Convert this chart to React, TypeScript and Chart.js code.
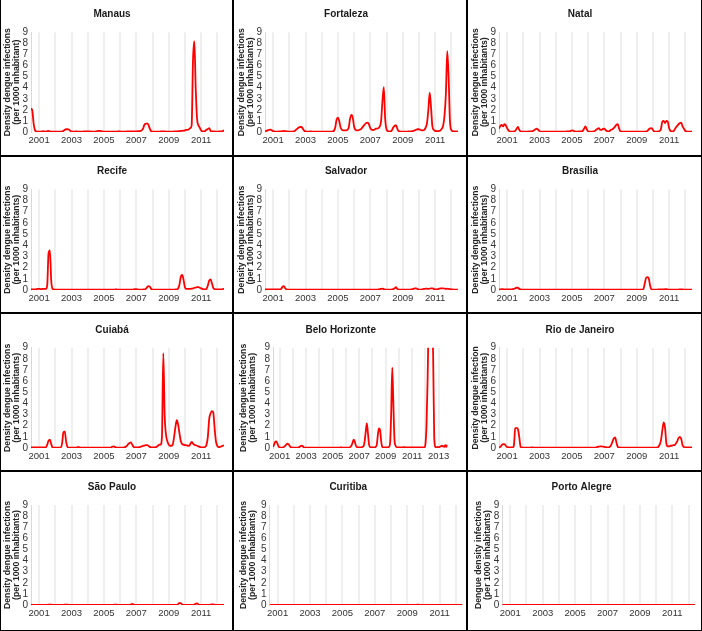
import React, { useEffect, useRef } from 'react';
import { Chart, registerables } from 'chart.js';

Chart.register(...registerables);
Chart.defaults.font.family = "'Liberation Sans', Arial, Helvetica, sans-serif";

// Monthly series, first point = July 2000
const START_YEAR = 2000.5;

const xTickLabels = ['2001', '2003', '2005', '2007', '2009', '2011'];
const xTickLabelsBH = ['2001', '2003', '2005', '2007', '2009', '2011', '2013'];

const cityTitles = ['Manaus', 'Fortaleza', 'Natal', 'Recife', 'Salvador', 'Brasília', 'Cuiabá', 'Belo Horizonte', 'Rio de Janeiro', 'São Paulo', 'Curitiba', 'Porto Alegre'];

const manaus = [
  2.15, 1.9, 0.7, 0.15, 0.05, 0.03, 0.03, 0.03, 0.05, 0.08, 0.05, 0.03,
  0.08, 0.1, 0.05, 0.03, 0.03, 0.03, 0.03, 0.03, 0.03, 0.03, 0.03, 0.05,
  0.1, 0.2, 0.25, 0.25, 0.22, 0.12, 0.05, 0.03, 0.03, 0.05, 0.05, 0.03,
  0.03, 0.03, 0.03, 0.05, 0.05, 0.05, 0.05, 0.05, 0.05, 0.03, 0.03, 0.03,
  0.05, 0.08, 0.1, 0.1, 0.08, 0.05, 0.03, 0.03, 0.03, 0.03, 0.03, 0.03,
  0.03, 0.03, 0.03, 0.03, 0.05, 0.05, 0.05, 0.03, 0.03, 0.03, 0.03, 0.05,
  0.05, 0.05, 0.05, 0.05, 0.05, 0.05, 0.05, 0.08, 0.08, 0.1, 0.15, 0.3,
  0.65, 0.75, 0.78, 0.65, 0.3, 0.08, 0.03, 0.03, 0.03, 0.03, 0.03, 0.03,
  0.05, 0.05, 0.05, 0.05, 0.03, 0.03, 0.03, 0.03, 0.03, 0.03, 0.05, 0.05,
  0.05, 0.08, 0.08, 0.1, 0.1, 0.12, 0.15, 0.2, 0.2, 0.25, 0.35, 0.6,
  6.5, 8.2, 4.0, 1.2, 0.6, 0.4, 0.15, 0.05, 0.05, 0.1, 0.2, 0.28,
  0.35, 0.1, 0.05, 0.05, 0.05, 0.03, 0.03, 0.05, 0.05, 0.05, 0.08, 0.15,
];

const fortaleza = [
  0.05, 0.1, 0.15, 0.2, 0.22, 0.15, 0.08, 0.05, 0.03, 0.03, 0.05, 0.05,
  0.05, 0.08, 0.1, 0.08, 0.05, 0.05, 0.03, 0.03, 0.03, 0.05, 0.1, 0.2,
  0.3, 0.4, 0.45, 0.45, 0.3, 0.12, 0.05, 0.03, 0.03, 0.05, 0.05, 0.03,
  0.03, 0.03, 0.03, 0.03, 0.03, 0.03, 0.03, 0.03, 0.03, 0.03, 0.03, 0.03,
  0.03, 0.03, 0.05, 0.1, 0.4, 1.1, 1.3, 1.0, 0.4, 0.2, 0.15, 0.15,
  0.15, 0.2, 0.4, 1.2, 1.55, 1.3, 0.5, 0.2, 0.15, 0.15, 0.2, 0.25,
  0.4, 0.55, 0.7, 0.82, 0.85, 0.7, 0.35, 0.2, 0.18, 0.2, 0.3, 0.3,
  0.35, 0.5, 1.0, 2.8, 4.05, 1.2, 0.25, 0.08, 0.05, 0.05, 0.15, 0.4,
  0.55, 0.62, 0.3, 0.08, 0.05, 0.03, 0.03, 0.03, 0.03, 0.03, 0.05, 0.05,
  0.05, 0.08, 0.1, 0.15, 0.2, 0.25, 0.25, 0.2, 0.15, 0.15, 0.2, 0.4,
  0.8, 2.0, 3.55, 2.2, 0.5, 0.2, 0.1, 0.08, 0.08, 0.1, 0.15, 0.3,
  0.6, 1.5, 3.5, 7.3, 5.0, 1.0, 0.2, 0.08, 0.05, 0.05, 0.05, 0.05,
];

const natal = [
  0.3, 0.55, 0.65, 0.5, 0.7, 0.6, 0.35, 0.15, 0.05, 0.03, 0.03, 0.05,
  0.1, 0.3, 0.45, 0.2, 0.05, 0.03, 0.03, 0.03, 0.03, 0.03, 0.05, 0.05,
  0.05, 0.08, 0.15, 0.25, 0.3, 0.2, 0.08, 0.03, 0.03, 0.03, 0.03, 0.03,
  0.03, 0.03, 0.03, 0.03, 0.03, 0.03, 0.03, 0.03, 0.03, 0.03, 0.03, 0.03,
  0.03, 0.03, 0.05, 0.05, 0.05, 0.1, 0.15, 0.12, 0.05, 0.03, 0.03, 0.05,
  0.05, 0.05, 0.1, 0.3, 0.5, 0.25, 0.05, 0.03, 0.03, 0.03, 0.05, 0.1,
  0.2, 0.3, 0.35, 0.2, 0.2, 0.28, 0.3, 0.18, 0.08, 0.05, 0.1, 0.2,
  0.25, 0.35, 0.5, 0.65, 0.7, 0.3, 0.05, 0.03, 0.03, 0.03, 0.03, 0.03,
  0.03, 0.03, 0.03, 0.03, 0.03, 0.03, 0.03, 0.03, 0.03, 0.03, 0.03, 0.03,
  0.03, 0.05, 0.1, 0.25, 0.33, 0.35, 0.2, 0.05, 0.03, 0.03, 0.05, 0.1,
  0.3, 0.95, 1.0, 0.8, 1.0, 0.95, 0.35, 0.1, 0.05, 0.05, 0.2, 0.4,
  0.55, 0.7, 0.8, 0.85, 0.5, 0.3, 0.1, 0.05, 0.03, 0.03, 0.03, 0.03,
];

const recife = [
  0.05, 0.05, 0.05, 0.05, 0.08, 0.1, 0.1, 0.08, 0.08, 0.1, 0.1, 0.1,
  0.4, 3.3, 3.55, 0.8, 0.1, 0.05, 0.03, 0.03, 0.03, 0.03, 0.03, 0.03,
  0.03, 0.03, 0.03, 0.03, 0.03, 0.03, 0.03, 0.03, 0.03, 0.03, 0.03, 0.03,
  0.03, 0.03, 0.03, 0.03, 0.03, 0.03, 0.03, 0.03, 0.03, 0.03, 0.03, 0.03,
  0.03, 0.03, 0.03, 0.03, 0.03, 0.03, 0.03, 0.03, 0.03, 0.03, 0.03, 0.03,
  0.03, 0.03, 0.04, 0.05, 0.04, 0.03, 0.03, 0.03, 0.03, 0.03, 0.03, 0.03,
  0.03, 0.03, 0.03, 0.03, 0.05, 0.08, 0.08, 0.05, 0.03, 0.03, 0.03, 0.05,
  0.05, 0.1, 0.25, 0.35, 0.3, 0.1, 0.03, 0.03, 0.03, 0.03, 0.03, 0.03,
  0.03, 0.03, 0.03, 0.03, 0.03, 0.03, 0.03, 0.03, 0.03, 0.03, 0.03, 0.05,
  0.05, 0.15, 0.5, 1.2, 1.35, 0.9, 0.25, 0.1, 0.1, 0.1, 0.1, 0.12,
  0.15, 0.2, 0.22, 0.25, 0.25, 0.2, 0.15, 0.1, 0.05, 0.05, 0.1, 0.4,
  0.85, 0.95, 0.6, 0.2, 0.08, 0.05, 0.05, 0.05, 0.05, 0.05, 0.08, 0.1,
];

const salvador = [
  0.05, 0.05, 0.05, 0.05, 0.05, 0.05, 0.05, 0.05, 0.05, 0.05, 0.05, 0.05,
  0.1, 0.3, 0.35, 0.15, 0.05, 0.03, 0.03, 0.03, 0.03, 0.03, 0.03, 0.03,
  0.03, 0.03, 0.03, 0.03, 0.03, 0.03, 0.03, 0.03, 0.03, 0.03, 0.03, 0.03,
  0.03, 0.03, 0.03, 0.03, 0.03, 0.03, 0.03, 0.03, 0.03, 0.03, 0.03, 0.03,
  0.03, 0.03, 0.03, 0.03, 0.03, 0.03, 0.03, 0.03, 0.03, 0.03, 0.03, 0.03,
  0.03, 0.03, 0.03, 0.03, 0.03, 0.03, 0.03, 0.03, 0.03, 0.03, 0.03, 0.03,
  0.03, 0.03, 0.03, 0.03, 0.03, 0.03, 0.03, 0.03, 0.03, 0.03, 0.03, 0.03,
  0.05, 0.08, 0.1, 0.12, 0.08, 0.05, 0.03, 0.03, 0.03, 0.03, 0.05, 0.08,
  0.15, 0.25, 0.1, 0.05, 0.03, 0.03, 0.03, 0.03, 0.03, 0.03, 0.03, 0.03,
  0.05, 0.08, 0.1, 0.15, 0.15, 0.08, 0.05, 0.03, 0.05, 0.08, 0.1, 0.12,
  0.12, 0.1, 0.12, 0.15, 0.15, 0.1, 0.05, 0.05, 0.08, 0.12, 0.15, 0.15,
  0.15, 0.12, 0.1, 0.12, 0.1, 0.08, 0.05, 0.05, 0.03, 0.03, 0.03, 0.03,
];

const brasilia = [
  0.05, 0.05, 0.08, 0.08, 0.05, 0.05, 0.05, 0.05, 0.05, 0.05, 0.08, 0.1,
  0.15, 0.2, 0.2, 0.1, 0.05, 0.03, 0.03, 0.03, 0.03, 0.03, 0.03, 0.03,
  0.03, 0.03, 0.03, 0.03, 0.03, 0.03, 0.03, 0.03, 0.03, 0.03, 0.03, 0.03,
  0.03, 0.03, 0.03, 0.03, 0.03, 0.03, 0.03, 0.03, 0.03, 0.03, 0.03, 0.03,
  0.03, 0.03, 0.03, 0.03, 0.03, 0.03, 0.03, 0.03, 0.03, 0.03, 0.03, 0.03,
  0.03, 0.03, 0.03, 0.03, 0.03, 0.03, 0.03, 0.03, 0.03, 0.03, 0.03, 0.03,
  0.03, 0.03, 0.03, 0.03, 0.03, 0.03, 0.03, 0.03, 0.03, 0.03, 0.03, 0.03,
  0.03, 0.03, 0.03, 0.03, 0.03, 0.03, 0.03, 0.03, 0.03, 0.03, 0.03, 0.03,
  0.03, 0.03, 0.03, 0.03, 0.03, 0.03, 0.03, 0.03, 0.03, 0.03, 0.03, 0.1,
  0.6, 1.1, 1.15, 1.0, 0.35, 0.05, 0.03, 0.03, 0.03, 0.03, 0.05, 0.05,
  0.05, 0.05, 0.06, 0.07, 0.07, 0.05, 0.03, 0.03, 0.03, 0.03, 0.03, 0.03,
  0.03, 0.04, 0.05, 0.06, 0.05, 0.03, 0.03, 0.03, 0.03, 0.03, 0.03, 0.03,
];

const cuiaba = [
  0.05, 0.05, 0.05, 0.05, 0.05, 0.05, 0.05, 0.05, 0.05, 0.05, 0.05, 0.05,
  0.3, 0.65, 0.75, 0.35, 0.05, 0.03, 0.03, 0.03, 0.03, 0.03, 0.05, 0.4,
  1.4, 1.5, 0.6, 0.1, 0.03, 0.03, 0.03, 0.03, 0.03, 0.03, 0.05, 0.1,
  0.05, 0.03, 0.03, 0.03, 0.03, 0.03, 0.03, 0.03, 0.03, 0.03, 0.03, 0.03,
  0.03, 0.03, 0.03, 0.03, 0.03, 0.03, 0.03, 0.03, 0.03, 0.03, 0.03, 0.03,
  0.1, 0.15, 0.1, 0.05, 0.03, 0.03, 0.03, 0.03, 0.03, 0.05, 0.1, 0.2,
  0.35, 0.45, 0.5, 0.3, 0.1, 0.05, 0.05, 0.05, 0.08, 0.1, 0.15, 0.2,
  0.22, 0.25, 0.25, 0.2, 0.1, 0.05, 0.05, 0.05, 0.08, 0.1, 0.2, 0.3,
  0.3, 1.0, 8.5, 3.0, 1.2, 0.6, 0.3, 0.2, 0.2, 0.3, 1.0, 1.9,
  2.5, 2.1, 1.3, 0.6, 0.35, 0.3, 0.25, 0.25, 0.2, 0.2, 0.35, 0.55,
  0.4, 0.3, 0.25, 0.2, 0.15, 0.1, 0.05, 0.05, 0.05, 0.1, 0.3, 1.0,
  2.6, 3.1, 3.3, 3.2, 1.8, 0.6, 0.2, 0.08, 0.1, 0.15, 0.2, 0.25,
];

const beloHorizonte = [
  0.1, 0.3, 0.55, 0.6, 0.4, 0.15, 0.05, 0.03, 0.03, 0.05, 0.1, 0.2,
  0.3, 0.4, 0.35, 0.2, 0.08, 0.03, 0.03, 0.03, 0.03, 0.03, 0.03, 0.05,
  0.1, 0.18, 0.2, 0.15, 0.05, 0.03, 0.03, 0.03, 0.03, 0.03, 0.03, 0.03,
  0.03, 0.03, 0.03, 0.03, 0.03, 0.03, 0.03, 0.03, 0.03, 0.03, 0.03, 0.03,
  0.03, 0.03, 0.03, 0.03, 0.03, 0.03, 0.03, 0.03, 0.03, 0.03, 0.03, 0.03,
  0.03, 0.05, 0.05, 0.03, 0.03, 0.03, 0.03, 0.03, 0.03, 0.03, 0.1, 0.2,
  0.45, 0.75, 0.6, 0.25, 0.08, 0.05, 0.05, 0.05, 0.05, 0.1, 0.15, 0.6,
  1.5, 2.2, 1.3, 0.3, 0.08, 0.05, 0.05, 0.05, 0.05, 0.1, 0.3, 1.2,
  1.75, 1.6, 0.6, 0.1, 0.05, 0.05, 0.05, 0.05, 0.05, 0.1, 0.4, 3.0,
  7.2, 4.0, 0.8, 0.2, 0.08, 0.05, 0.05, 0.05, 0.05, 0.05, 0.08, 0.08,
  0.05, 0.05, 0.05, 0.05, 0.05, 0.05, 0.05, 0.05, 0.05, 0.05, 0.05, 0.05,
  0.05, 0.05, 0.05, 0.05, 0.05, 0.05, 0.3, 2.0, 6.0, 12, 18, 16,
  10.5, 8.5, 1.0, 0.1, 0.05, 0.1, 0.08, 0.1, 0.15, 0.2, 0.15, 0.1,
  0.25, 0.1, 0.3,
];

const rioDeJaneiro = [
  0.05, 0.1, 0.25, 0.35, 0.35, 0.2, 0.08, 0.05, 0.05, 0.05, 0.05, 0.2,
  1.75, 1.8, 1.7, 1.0, 0.1, 0.05, 0.03, 0.03, 0.03, 0.03, 0.03, 0.03,
  0.05, 0.05, 0.03, 0.03, 0.03, 0.03, 0.03, 0.03, 0.03, 0.03, 0.03, 0.03,
  0.03, 0.03, 0.03, 0.03, 0.03, 0.03, 0.03, 0.03, 0.03, 0.03, 0.03, 0.03,
  0.03, 0.03, 0.03, 0.03, 0.03, 0.03, 0.03, 0.03, 0.03, 0.03, 0.03, 0.03,
  0.03, 0.03, 0.03, 0.03, 0.03, 0.03, 0.03, 0.03, 0.03, 0.03, 0.03, 0.03,
  0.05, 0.1, 0.12, 0.15, 0.15, 0.12, 0.1, 0.08, 0.05, 0.05, 0.1, 0.25,
  0.55, 0.85, 0.95, 0.5, 0.1, 0.05, 0.03, 0.03, 0.03, 0.03, 0.03, 0.03,
  0.03, 0.03, 0.03, 0.03, 0.03, 0.03, 0.03, 0.03, 0.03, 0.03, 0.03, 0.03,
  0.03, 0.03, 0.03, 0.03, 0.03, 0.03, 0.03, 0.03, 0.03, 0.03, 0.1, 0.3,
  0.7, 1.6, 2.3, 1.8, 0.4, 0.15, 0.15, 0.2, 0.2, 0.25, 0.25, 0.4,
  0.6, 0.9, 1.0, 0.8, 0.25, 0.08, 0.05, 0.05, 0.05, 0.05, 0.05, 0.05,
];

const saoPaulo = [
  0.02, 0.02, 0.02, 0.02, 0.02, 0.02, 0.02, 0.02, 0.02, 0.02, 0.02, 0.02,
  0.02, 0.03, 0.04, 0.03, 0.02, 0.02, 0.02, 0.02, 0.02, 0.02, 0.02, 0.02,
  0.02, 0.03, 0.04, 0.03, 0.02, 0.02, 0.02, 0.02, 0.02, 0.02, 0.02, 0.02,
  0.02, 0.02, 0.02, 0.02, 0.02, 0.02, 0.02, 0.02, 0.02, 0.02, 0.02, 0.02,
  0.02, 0.02, 0.02, 0.02, 0.02, 0.02, 0.02, 0.02, 0.02, 0.02, 0.02, 0.02,
  0.02, 0.02, 0.03, 0.03, 0.02, 0.02, 0.02, 0.02, 0.02, 0.02, 0.02, 0.02,
  0.02, 0.02, 0.05, 0.1, 0.05, 0.02, 0.02, 0.02, 0.02, 0.02, 0.02, 0.02,
  0.02, 0.02, 0.02, 0.02, 0.02, 0.02, 0.02, 0.02, 0.02, 0.02, 0.02, 0.02,
  0.02, 0.02, 0.02, 0.02, 0.02, 0.02, 0.02, 0.02, 0.02, 0.02, 0.02, 0.02,
  0.02, 0.08, 0.2, 0.15, 0.05, 0.02, 0.02, 0.02, 0.02, 0.02, 0.02, 0.02,
  0.02, 0.05, 0.1, 0.15, 0.05, 0.02, 0.02, 0.02, 0.02, 0.02, 0.02, 0.02,
  0.02, 0.03, 0.05, 0.05, 0.03, 0.02, 0.02, 0.02, 0.02, 0.02, 0.02, 0.02,
];

const curitiba = [
  0.01, 0.01, 0.01, 0.01, 0.01, 0.01, 0.01, 0.01, 0.01, 0.01, 0.01, 0.01,
  0.01, 0.01, 0.01, 0.01, 0.01, 0.01, 0.01, 0.01, 0.01, 0.01, 0.01, 0.01,
  0.01, 0.01, 0.01, 0.01, 0.01, 0.01, 0.01, 0.01, 0.01, 0.01, 0.01, 0.01,
  0.01, 0.01, 0.01, 0.01, 0.01, 0.01, 0.01, 0.01, 0.01, 0.01, 0.01, 0.01,
  0.01, 0.01, 0.01, 0.01, 0.01, 0.01, 0.01, 0.01, 0.01, 0.01, 0.01, 0.01,
  0.01, 0.01, 0.01, 0.01, 0.01, 0.01, 0.01, 0.01, 0.01, 0.01, 0.01, 0.01,
  0.01, 0.01, 0.01, 0.01, 0.01, 0.01, 0.01, 0.01, 0.01, 0.01, 0.01, 0.01,
  0.01, 0.01, 0.01, 0.01, 0.01, 0.01, 0.01, 0.01, 0.01, 0.01, 0.01, 0.01,
  0.01, 0.01, 0.01, 0.01, 0.01, 0.01, 0.01, 0.01, 0.01, 0.01, 0.01, 0.01,
  0.01, 0.02, 0.03, 0.02, 0.01, 0.01, 0.01, 0.01, 0.01, 0.01, 0.01, 0.01,
  0.01, 0.01, 0.01, 0.01, 0.01, 0.01, 0.01, 0.01, 0.01, 0.01, 0.01, 0.01,
  0.01, 0.01, 0.01, 0.01, 0.01, 0.01, 0.01, 0.01, 0.01, 0.01, 0.01, 0.01,
];

const portoAlegre = [
  0.01, 0.01, 0.01, 0.01, 0.01, 0.01, 0.01, 0.01, 0.01, 0.01, 0.01, 0.01,
  0.01, 0.01, 0.01, 0.01, 0.01, 0.01, 0.01, 0.01, 0.01, 0.01, 0.01, 0.01,
  0.01, 0.01, 0.01, 0.01, 0.01, 0.01, 0.01, 0.01, 0.01, 0.01, 0.01, 0.01,
  0.01, 0.01, 0.01, 0.01, 0.01, 0.01, 0.01, 0.01, 0.01, 0.01, 0.01, 0.01,
  0.01, 0.01, 0.01, 0.01, 0.01, 0.01, 0.01, 0.01, 0.01, 0.01, 0.01, 0.01,
  0.01, 0.01, 0.01, 0.01, 0.01, 0.01, 0.01, 0.01, 0.01, 0.01, 0.01, 0.01,
  0.01, 0.01, 0.01, 0.01, 0.01, 0.01, 0.01, 0.01, 0.01, 0.01, 0.01, 0.01,
  0.01, 0.01, 0.01, 0.01, 0.01, 0.01, 0.01, 0.01, 0.01, 0.01, 0.01, 0.01,
  0.01, 0.01, 0.01, 0.01, 0.01, 0.01, 0.01, 0.01, 0.01, 0.01, 0.01, 0.01,
  0.01, 0.01, 0.01, 0.01, 0.01, 0.01, 0.01, 0.01, 0.01, 0.01, 0.01, 0.01,
  0.01, 0.01, 0.01, 0.01, 0.01, 0.01, 0.01, 0.01, 0.01, 0.01, 0.01, 0.01,
  0.01, 0.01, 0.01, 0.01, 0.01, 0.01, 0.01, 0.01, 0.01, 0.01, 0.01, 0.01,
];

const yTitleStd = ['Density dengue infections', '(per 1000 inhabitants)'];
const yTitleManaus = ['Density dengue infections', '(per 1000 inhabitant)'];
const yTitleRio = ['Density dengue infection', '(per 1000 inhabitants)'];
const yTitlePOA = ['Dengue density infections', '(per 1000 inhabitants)'];

// Layout (page pixels)
const colX = [0, 234, 468];
const colW = [232, 232, 234];
const rowY = [0, 157, 314, 472];
const rowH = [155, 155, 156, 159];
const rowTitleY = [14, 171.7, 330, 487.3];
const rowTop = [32.3, 189.3, 347.7, 505];
const rowBottom = [132, 290, 448, 605];

type Spec = {
  title: string;
  yTitle: string[];
  values: number[];
  xLabels: string[];
  col: number;
  row: number;
  left: number;
  pxPerYear: number;
  yTitleX: number;
};

const specs: Spec[] = [
  { title: cityTitles[0], yTitle: yTitleManaus, values: manaus, xLabels: xTickLabels, col: 0, row: 0, left: 31, pxPerYear: 16.2, yTitleX: 8 },
  { title: cityTitles[1], yTitle: yTitleStd, values: fortaleza, xLabels: xTickLabels, col: 1, row: 0, left: 265, pxPerYear: 16.2, yTitleX: 241.5 },
  { title: cityTitles[2], yTitle: yTitleStd, values: natal, xLabels: xTickLabels, col: 2, row: 0, left: 499, pxPerYear: 16.2, yTitleX: 475.5 },
  { title: cityTitles[3], yTitle: yTitleStd, values: recife, xLabels: xTickLabels, col: 0, row: 1, left: 31, pxPerYear: 16.2, yTitleX: 8 },
  { title: cityTitles[4], yTitle: yTitleStd, values: salvador, xLabels: xTickLabels, col: 1, row: 1, left: 265, pxPerYear: 16.2, yTitleX: 241.5 },
  { title: cityTitles[5], yTitle: yTitleStd, values: brasilia, xLabels: xTickLabels, col: 2, row: 1, left: 499, pxPerYear: 16.2, yTitleX: 475.5 },
  { title: cityTitles[6], yTitle: yTitleStd, values: cuiaba, xLabels: xTickLabels, col: 0, row: 2, left: 31, pxPerYear: 16.2, yTitleX: 7.8 },
  { title: cityTitles[7], yTitle: yTitleStd, values: beloHorizonte, xLabels: xTickLabelsBH, col: 1, row: 2, left: 273, pxPerYear: 13.25, yTitleX: 244 },
  { title: cityTitles[8], yTitle: yTitleRio, values: rioDeJaneiro, xLabels: xTickLabels, col: 2, row: 2, left: 499, pxPerYear: 16.2, yTitleX: 475.5 },
  { title: cityTitles[9], yTitle: yTitleStd, values: saoPaulo, xLabels: xTickLabels, col: 0, row: 3, left: 31, pxPerYear: 16.2, yTitleX: 8 },
  { title: cityTitles[10], yTitle: yTitleStd, values: curitiba, xLabels: xTickLabels, col: 1, row: 3, left: 269.5, pxPerYear: 16.2, yTitleX: 244 },
  { title: cityTitles[11], yTitle: yTitlePOA, values: portoAlegre, xLabels: xTickLabels, col: 2, row: 3, left: 502.2, pxPerYear: 16.2, yTitleX: 479 },
];

function Panel({ spec }: { spec: Spec }) {
  const ref = useRef<HTMLCanvasElement | null>(null);
  const cx = colX[spec.col];
  const cy = rowY[spec.row];
  const cw = colW[spec.col];
  const ch = rowH[spec.row];

  useEffect(() => {
    if (!ref.current) return;
    const xMax = START_YEAR + (spec.values.length - 1) / 12;
    const right = spec.left + (xMax - START_YEAR) * spec.pxPerYear;
    const relL = spec.left - cx;
    const relR = cx + cw - right;
    const relT = rowTop[spec.row] - cy;
    const relB = cy + ch - rowBottom[spec.row];
    const titleLH = 12;
    const tPadTop = rowTitleY[spec.row] - cy - titleLH / 2;
    const tPadBot = relT - tPadTop - titleLH;
    const yLH = 9;

    const chart = new Chart(ref.current, {
      type: 'line',
      data: {
        datasets: [
          {
            data: spec.values.map((v, i) => ({ x: START_YEAR + i / 12, y: v })),
            borderColor: '#ff0000',
            borderWidth: 1.8,
            pointRadius: 0,
            cubicInterpolationMode: 'monotone',
            fill: false,
          },
        ],
      },
      options: {
        responsive: false,
        animation: false,
        events: [],
        layout: { padding: { left: 0, top: 0, right: relR, bottom: 0 } },
        plugins: {
          legend: { display: false },
          tooltip: { enabled: false },
          title: {
            display: true,
            text: spec.title,
            color: '#1a1a1a',
            font: { size: 10, weight: 'bold', lineHeight: titleLH + 'px' },
            padding: { top: tPadTop, bottom: tPadBot },
          },
        },
        scales: {
          x: {
            type: 'linear',
            min: START_YEAR,
            max: xMax,
            border: { display: false },
            grid: { color: '#efefef', lineWidth: 2, drawTicks: false },
            ticks: {
              stepSize: 1,
              includeBounds: false,
              autoSkip: false,
              maxRotation: 0,
              minRotation: 0,
              padding: 3,
              color: '#333',
              font: { size: 9.5 },
              callback: (v: any) => (spec.xLabels.includes(String(v)) ? String(v) : ''),
            },
            afterFit: (s: any) => {
              s.height = relB;
            },
          },
          y: {
            type: 'linear',
            min: 0,
            max: 9,
            border: { display: true, color: '#d9d9d9', width: 1 },
            grid: { display: false, drawTicks: false },
            ticks: { stepSize: 1, autoSkip: false, padding: 3, color: '#333', font: { size: 10 } },
            title: {
              display: true,
              text: spec.yTitle,
              color: '#222',
              font: { size: 8.7, weight: 'bold', lineHeight: yLH + 'px' },
              padding: { top: spec.yTitleX - cx - yLH / 2, bottom: 0 },
            },
            afterFit: (s: any) => {
              s.width = relL;
            },
          },
        },
      },
    } as any);
    return () => chart.destroy();
  }, []);

  return (
    <canvas
      ref={ref}
      width={cw}
      height={ch}
      style={{ position: 'absolute', left: cx, top: cy, width: cw, height: ch }}
    />
  );
}

const lineStyle = (l: number, t: number, w: number, h: number): React.CSSProperties => ({
  position: 'absolute', left: l, top: t, width: w, height: h, background: '#000',
});

export default function App() {
  useEffect(() => {
    document.body.style.margin = '0';
  }, []);
  return (
    <div style={{ position: 'relative', width: 702, height: 631, background: '#fff', overflow: 'hidden' }}>
      {specs.map((s, i) => (
        <Panel key={i} spec={s} />
      ))}
      <div style={lineStyle(232, 0, 2, 631)} />
      <div style={lineStyle(466, 0, 2, 631)} />
      <div style={lineStyle(0, 155, 702, 2)} />
      <div style={lineStyle(0, 312, 702, 2)} />
      <div style={lineStyle(0, 470, 702, 2)} />
      <div style={lineStyle(0, 0, 1, 631)} />
      <div style={lineStyle(701, 0, 1, 631)} />
      <div style={lineStyle(0, 630, 702, 1)} />
    </div>
  );
}
